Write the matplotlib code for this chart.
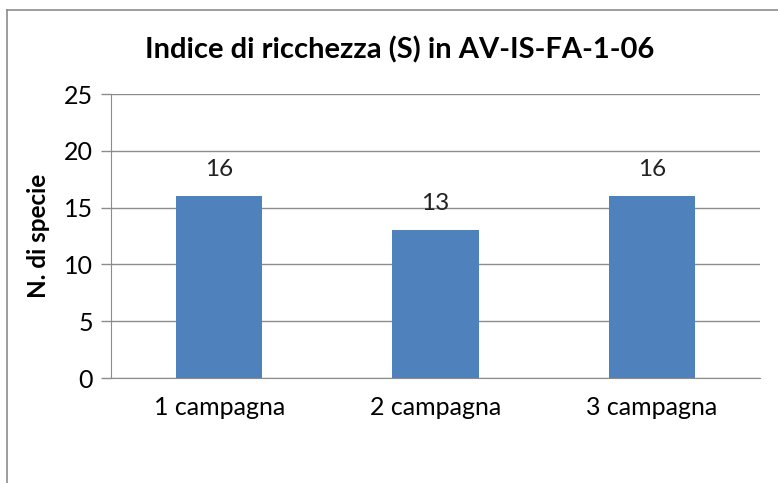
import matplotlib.pyplot as plt
from matplotlib.lines import Line2D
import numpy as np

# Data
categories = ['1 campagna', '2 campagna', '3 campagna']
species = [16, 13, 16]
yticks = [0, 5, 10, 15, 20, 25]

plt.rcParams['font.family'] = ['Lato', 'DejaVu Sans']

W, H = 778, 483
fig = plt.figure(figsize=(W / 100, H / 100), dpi=100)
ax = fig.add_axes([111 / W, 1 - 378 / H, (760 - 111) / W, (378 - 94) / H])

x = np.arange(len(categories))
bars = ax.bar(x, species, width=0.40, color='#4F81BD', zorder=3)
for xi, v in zip(x, species):
    ax.text(xi, v + 1.4, str(v), ha='center', va='bottom', fontsize=17.5, color='#222222')

ax.set_xlim(-0.5, len(categories) - 0.5)
ax.set_ylim(0, 25)
ax.set_yticks(yticks)
ax.set_xticks(x)
ax.set_xticklabels(categories)
ax.tick_params(axis='y', length=7, width=1, color='#8c8c8c', labelsize=18, pad=6)
ax.tick_params(axis='x', length=0, labelsize=18, pad=13)
ax.yaxis.grid(True, color='#8c8c8c', linewidth=1, zorder=0)
for side in ['top', 'right']:
    ax.spines[side].set_visible(False)
ax.spines['left'].set_color('#8c8c8c')
ax.spines['bottom'].set_color('#8c8c8c')

ax.set_ylabel('N. di specie', fontsize=17.5, fontweight='bold', labelpad=10)
fig.text(400 / W, 1 - 50 / H, 'Indice di ricchezza (S) in AV-IS-FA-1-06',
         ha='center', va='center', fontsize=21, fontweight='bold')

# outer frame (cropped at right and bottom)
fig.add_artist(Line2D([7 / W, 7 / W], [0, 1 - 10 / H], color='#8c8c8c', lw=1.2, transform=fig.transFigure))
fig.add_artist(Line2D([7 / W, 1], [1 - 10 / H, 1 - 10 / H], color='#8c8c8c', lw=1.2, transform=fig.transFigure))

fig.savefig('out.png', dpi=100)
